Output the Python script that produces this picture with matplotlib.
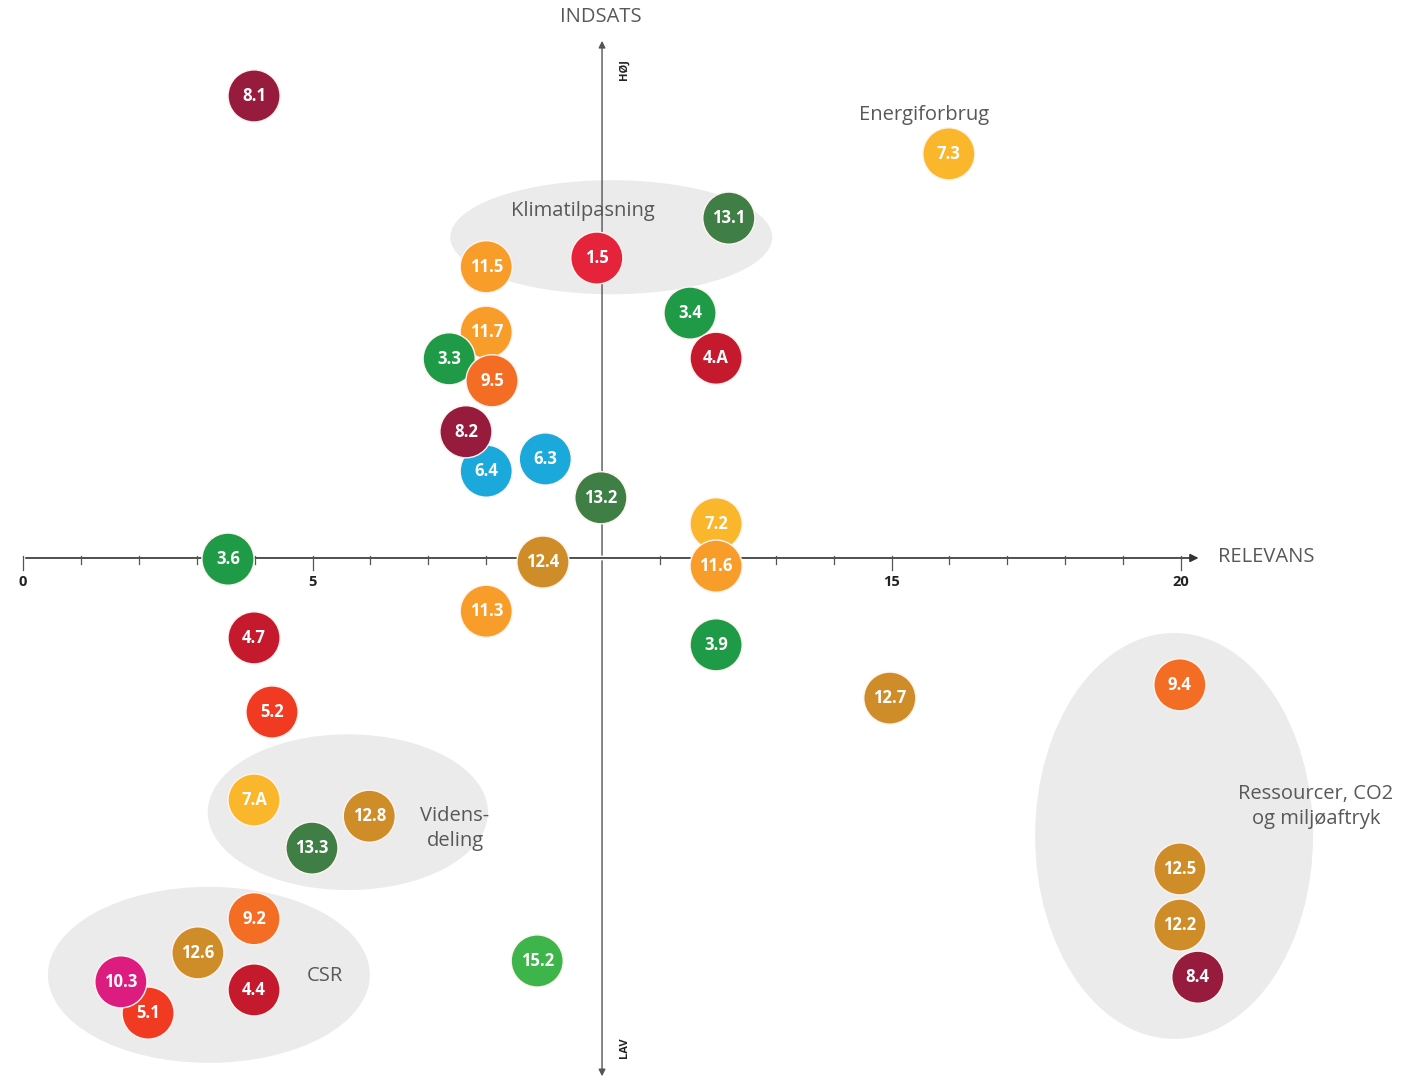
import matplotlib
matplotlib.use("Agg")
import matplotlib.pyplot as plt
from matplotlib.patches import Ellipse, Circle

# ---- data ----
targets = ["8.1", "7.3", "13.1", "11.5", "1.5", "3.4", "11.7", "3.3", "9.5", "4.A",
           "6.4", "8.2", "6.3", "13.2", "7.2", "3.6", "12.4", "11.6", "11.3", "4.7",
           "3.9", "12.7", "9.4", "5.2", "7.A", "12.8", "13.3", "9.2", "12.6", "4.4",
           "5.1", "10.3", "15.2", "12.5", "12.2", "8.4"]
relevans = [3.99, 15.99, 12.19, 8.0, 9.91, 11.52, 8.0, 7.36, 8.10, 11.97,
            8.0, 7.65, 9.02, 9.98, 11.97, 3.54, 8.98, 11.97, 8.0, 3.99,
            11.97, 14.97, 19.98, 4.30, 3.99, 5.98, 4.99, 3.99, 3.02, 3.99,
            2.16, 1.69, 8.88, 19.98, 19.98, 20.29]
indsats = [7.98, 6.98, 5.87, 5.03, 5.18, 4.23, 3.90, 3.44, 3.06, 3.45,
           1.50, 2.18, 1.71, 1.04, 0.59, -0.02, -0.07, -0.14, -0.92, -1.38,
           -1.50, -2.42, -2.19, -2.66, -4.18, -4.46, -5.01, -6.23, -6.82, -7.46,
           -7.86, -7.32, -6.96, -5.37, -6.34, -7.24]
x_ticks = [0, 5, 10, 15, 20]
x_tick_labels = ["0", "5", "", "15", "20"]
groups = ["Klimatilpasning", "Videns-\ndeling", "CSR", "Ressourcer, CO2\nog miljøaftryk"]

goal_colors = {
    "1": "#E5243B", "3": "#1F9A47", "4": "#C5192D", "5": "#F03A21",
    "6": "#1BA9DC", "7": "#FBB72B", "8": "#961B3C", "9": "#F36D25",
    "10": "#DD1C7F", "11": "#F99D2A", "12": "#CF8D2A", "13": "#3F7E44",
    "15": "#3DB54A",
}

fig = plt.figure(figsize=(14.04, 10.81), dpi=100)
ax = fig.add_axes([0, 0, 1, 1])
ax.set_xlim(-0.397, 23.85)
ax.set_ylim(-9.033, 9.637)
ax.set_aspect("equal")
ax.axis("off")

ell_color = "#EBEBEB"
for (cx, cy, w, h) in [(10.16, 5.54, 5.56, 1.97), (5.61, -4.39, 4.84, 2.69),
                       (3.21, -7.20, 5.56, 3.04), (19.88, -4.80, 4.80, 7.01)]:
    ax.add_patch(Ellipse((cx, cy), w, h, facecolor=ell_color, edgecolor="none", zorder=0))

txt_col = "#585858"
gfont = dict(family=["Open Sans", "DejaVu Sans"], fontsize=14.5, color=txt_col)
ax.text(9.67, 5.99, groups[0], ha="center", va="center", zorder=1.5, **gfont)
ax.text(7.46, -4.67, groups[1], ha="center", va="center", linespacing=1.3, zorder=1.5, **gfont)
ax.text(5.22, -7.22, groups[2], ha="center", va="center", zorder=1.5, **gfont)
ax.text(22.33, -4.29, groups[3], ha="center", va="center", linespacing=1.3, zorder=1.5, **gfont)
ax.text(15.56, 7.65, "Energiforbrug", ha="center", va="center", zorder=1.5, **gfont)
ax.text(9.98, 9.34, "INDSATS", ha="center", va="center", **gfont)
ax.text(20.64, 0.02, "RELEVANS", ha="left", va="center", **gfont)

# axes
axc = "#333333"
ax.annotate("", xy=(20.35, 0), xytext=(0, 0),
            arrowprops=dict(arrowstyle="-|>", color=axc, lw=1.2, mutation_scale=12), zorder=1)
ax.annotate("", xy=(10, 8.98), xytext=(10, 0),
            arrowprops=dict(arrowstyle="-|>", color="#555555", lw=1.0, mutation_scale=10), zorder=1)
ax.annotate("", xy=(10, -9.0), xytext=(10, 0),
            arrowprops=dict(arrowstyle="-|>", color="#555555", lw=1.0, mutation_scale=10), zorder=1)
for t in range(0, 21):
    if t == 10:
        continue
    ln = 0.2 if t % 5 == 0 else 0.1
    ax.plot([t, t], [0.03, -ln], color="#555555", lw=0.9, zorder=1)
for t, lab in zip(x_ticks, x_tick_labels):
    if lab:
        ax.text(t, -0.42, lab, ha="center", va="center", fontsize=10.5,
                fontweight="bold", family=["Open Sans", "DejaVu Sans"], color="#222222")
ax.text(10.38, 8.43, "HØJ", rotation=90, ha="center", va="center", fontsize=8,
        fontweight="bold", family=["Open Sans", "DejaVu Sans"], color="#222222")
ax.text(10.38, -8.46, "LAV", rotation=90, ha="center", va="center", fontsize=8,
        fontweight="bold", family=["Open Sans", "DejaVu Sans"], color="#222222")

# circles
r = 0.45
for i, (lab, x, y) in enumerate(zip(targets, relevans, indsats)):
    goal = lab.split(".")[0]
    z = 3 + i * 0.01
    ax.add_patch(Circle((x, y), r, facecolor=goal_colors[goal], edgecolor="#FFF4F0",
                        lw=1.0, zorder=z))
    ax.text(x, y, lab, ha="center", va="center", color="white", fontsize=12,
            fontweight="bold", family=["Open Sans", "DejaVu Sans"], zorder=z + 0.005)

fig.savefig("out.png", dpi=100, facecolor="white")
